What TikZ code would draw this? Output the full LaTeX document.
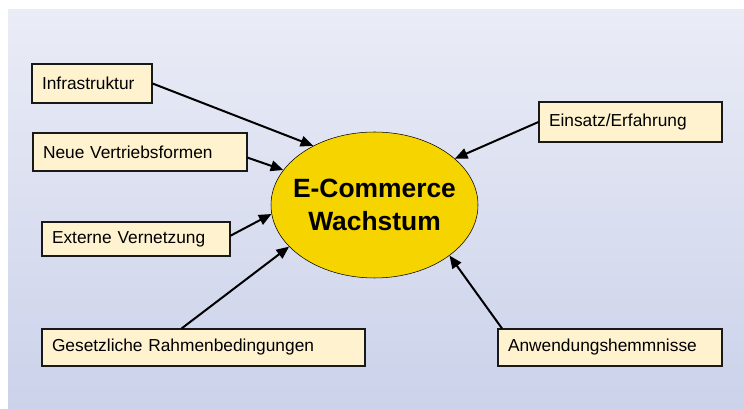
\documentclass[tikz,border=0pt]{standalone}
\usepackage{fontspec}
\setmainfont{Liberation Sans}
\usetikzlibrary{shapes.geometric,arrows.meta,shadows}

\definecolor{hgoben}{HTML}{EAECF6}
\definecolor{hgunten}{HTML}{CBD2EA}
\definecolor{kasten}{HTML}{FFF2CF}
\definecolor{gold}{HTML}{F6D400}

\tikzset{
  faktor/.style={rectangle, draw=black!90, line width=0.8pt, fill=kasten,
    inner xsep=7.5pt, align=left, font=\fontsize{13}{15}\selectfont,
    drop shadow={shadow xshift=0.8pt, shadow yshift=-0.8pt, fill=black!45, opacity=1}},
  pfeil/.style={line width=1.5pt, -{Triangle[length=9.5pt,width=8pt]}},
}

\begin{document}
\begin{tikzpicture}[x=0.75pt, y=-0.75pt]
        % background
        \useasboundingbox (0,0) rectangle (744,409);
        \shade[top color=hgoben, bottom color=hgunten] (8,10) rectangle (744,409);

        % growth ellipse
        \node[ellipse, draw, thin, fill=gold, minimum width=155.25pt, minimum height=109.5pt,
              inner xsep=-6.5pt, inner ysep=0pt,
              align=center, font=\fontsize{19.8}{24.75}\selectfont\bfseries] (wachstum) at (374.5,205) {E-Commerce\\Wachstum};

        % factors
        \node[faktor, text width=75pt, minimum height=29.25pt] (infra) at (92,83.5) {Infrastruktur};
        \node[faktor, text width=145.5pt, minimum height=28.5pt] (neue) at (140,152) {Neue Vertriebsformen};
        \node[faktor, text width=126pt, minimum height=25.5pt] (extern) at (136,239) {Externe Vernetzung};
        \node[faktor, text width=227.25pt, minimum height=27.75pt] (gesetz) at (203.5,347.5) {Gesetzliche Rahmenbedingungen};
        \node[faktor, text width=122.25pt, minimum height=30pt] (einsatz) at (630.5,122) {Einsatz/Erfahrung};
        \node[faktor, text width=153pt, minimum height=27.75pt] (anwend) at (610,347.5) {Anwendungshemmnisse};

        % arrows
        \foreach \von/\nach in {infra.east/136, neue.357/159, extern.2/185, gesetz.139/206, einsatz.west/30, anwend.170/326}
            \draw[pfeil] (\von) -- (wachstum.\nach);
\end{tikzpicture}
\end{document}
